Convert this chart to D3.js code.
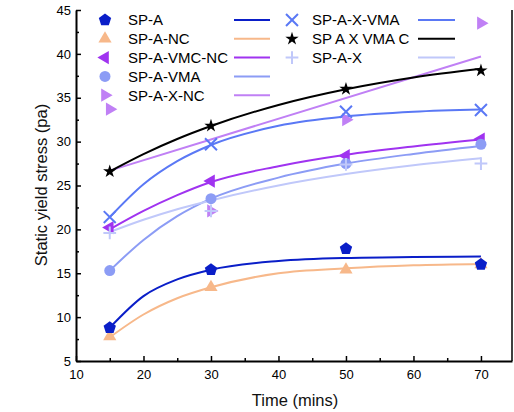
<!DOCTYPE html>
<html>
<head>
<meta charset="utf-8">
<script src="https://cdn.jsdelivr.net/npm/d3@7"></script>
<style>
  html, body { margin: 0; padding: 0; background: #fff; }
  svg { display: block; font-family: "Liberation Sans", Arial, sans-serif; font-weight: normal; }
</style>
</head>
<body>
<svg id="chart" width="514" height="412"></svg>
<script>
// Measured time points (mins)
const timeX = [15, 30, 50, 70];

// Static yield stress (Pa) per mix
const spA      = [8.8, 15.4, 17.8, 16.0];
const spANC    = [7.8, 13.4, 15.4, 16.0];
const spAVMCNC = [20.2, 25.5, 28.4, 30.3];
const spAVMA   = [15.3, 23.5, 27.5, 29.7];
const spAXNC   = [33.7, 22.1, 32.5, 43.5];
const spAXVMA  = [21.4, 29.7, 33.4, 33.6];
const spAXVMAC = [26.6, 31.8, 36.0, 38.1];
const spAX     = [19.6, 22.1, 27.4, 27.5];

// Fitted trend curves, sampled along time
const fitX = [15, 20, 25, 30, 40, 50, 60, 70];
const fitSpA      = [8.8, 12.4, 14.3, 15.4, 16.4, 16.75, 16.85, 16.9];
const fitSpANC    = [7.7, 10.3, 12.15, 13.4, 15.0, 15.56, 15.9, 16.06];
const fitSpAVMCNC = [20.0, 22.1, 23.9, 25.4, 27.2, 28.5, 29.45, 30.25];
const fitSpAVMA   = [15.3, 18.8, 21.5, 23.5, 25.9, 27.5, 28.6, 29.5];
const fitSpAXVMA  = [21.4, 25.15, 27.78, 29.62, 31.8, 32.87, 33.4, 33.65];
const fitSpAXVMAC = [26.6, 28.58, 30.3, 31.78, 34.18, 35.97, 37.31, 38.3];
const fitSpAX     = [19.7, 21.1, 22.3, 23.3, 25.0, 26.3, 27.3, 28.1];
// Linear trend for SP-A-X-NC
const fitLinX   = [15, 70];
const fitSpAXNC = [26.7, 39.7];

// Axis ticks
const xTicks = [10, 20, 30, 40, 50, 60, 70];
const xMinorTicks = [15, 25, 35, 45, 55, 65];
const yTicks = [5, 10, 15, 20, 25, 30, 35, 40, 45];
const yMinorTicks = [7.5, 12.5, 17.5, 22.5, 27.5, 32.5, 37.5, 42.5];

const seriesNames = ["SP-A", "SP-A-NC", "SP-A-VMC-NC", "SP-A-VMA", "SP-A-X-NC",
                     "SP-A-X-VMA", "SP A X VMA C", "SP-A-X"];

// Pentagon marker
const pentagon = {
  draw(ctx, size) {
    const r = Math.sqrt(size / 2.378);
    for (let k = 0; k < 5; k++) {
      const a = -Math.PI / 2 + k * 2 * Math.PI / 5;
      const px = r * Math.cos(a), py = r * Math.sin(a);
      if (k === 0) ctx.moveTo(px, py); else ctx.lineTo(px, py);
    }
    ctx.closePath();
  }
};

// Styling per series
const styles = [
  { color: "#0a1ec8", sym: pentagon, size: 100, rot: 0, stroke: false },
  { color: "#f7b88a", sym: d3.symbolTriangle, size: 75, rot: 0, stroke: false },
  { color: "#a033f0", sym: d3.symbolTriangle, size: 75, rot: -90, stroke: false },
  { color: "#8c9cf5", sym: d3.symbolCircle, size: 95, rot: 0, stroke: false },
  { color: "#c080f5", sym: d3.symbolTriangle, size: 75, rot: 90, stroke: false },
  { color: "#5a78f5", sym: d3.symbolTimes, size: 95, rot: 0, stroke: true },
  { color: "#000000", sym: d3.symbolStar, size: 55, rot: 0, stroke: false },
  { color: "#c0c8fa", sym: d3.symbolPlus, size: 55, rot: 0, stroke: true }
];

const series = [
  { name: seriesNames[0], ys: spA,      fx: fitX,    fy: fitSpA,      st: styles[0] },
  { name: seriesNames[1], ys: spANC,    fx: fitX,    fy: fitSpANC,    st: styles[1] },
  { name: seriesNames[2], ys: spAVMCNC, fx: fitX,    fy: fitSpAVMCNC, st: styles[2] },
  { name: seriesNames[3], ys: spAVMA,   fx: fitX,    fy: fitSpAVMA,   st: styles[3] },
  { name: seriesNames[4], ys: spAXNC,   fx: fitLinX, fy: fitSpAXNC,   st: styles[4] },
  { name: seriesNames[5], ys: spAXVMA,  fx: fitX,    fy: fitSpAXVMA,  st: styles[5] },
  { name: seriesNames[6], ys: spAXVMAC, fx: fitX,    fy: fitSpAXVMAC, st: styles[6] },
  { name: seriesNames[7], ys: spAX,     fx: fitX,    fy: fitSpAX,     st: styles[7] }
];

const svg = d3.select("#chart");
const plotL = 76, plotR = 512, plotT = 10, plotB = 361;

const x = d3.scaleLinear().domain([10, 74.6]).range([plotL, plotR]);
const y = d3.scaleLinear().domain([5, 45]).range([plotB, plotT]);

function symbolPath(st) {
  return d3.symbol().type(st.sym).size(st.size)();
}
function styleMarker(sel, st) {
  if (st.stroke) {
    sel.attr("fill", "none").attr("stroke", st.color).attr("stroke-width", 2);
  } else {
    sel.attr("fill", st.color).attr("stroke", "none");
  }
}

// Fit curves
const line = d3.line().x(d => x(d[0])).y(d => y(d[1])).curve(d3.curveMonotoneX);
const drawOrder = [1, 0, 2, 3, 4, 5, 6, 7];
const gData = svg.append("g");
drawOrder.forEach(i => {
  const s = series[i];
  gData.append("path")
    .attr("d", line(s.fx.map((v, k) => [v, s.fy[k]])))
    .attr("fill", "none")
    .attr("stroke", s.st.color)
    .attr("stroke-width", 2);
});
// Markers
drawOrder.forEach(i => {
  const s = series[i];
  gData.selectAll(null)
    .data(s.ys.map((v, k) => [timeX[k], v]))
    .join("path")
    .attr("d", symbolPath(s.st))
    .attr("transform", d => `translate(${x(d[0])},${y(d[1])}) rotate(${s.st.rot})`)
    .call(styleMarker, s.st);
});

// Axes
const font = "Liberation Sans, Arial, sans-serif";
svg.append("g").attr("transform", `translate(0,${plotB})`)
  .call(d3.axisBottom(x).tickValues(xTicks).tickSize(-5).tickSizeOuter(0).tickPadding(9));
svg.append("g").attr("transform", `translate(0,${plotB})`)
  .call(d3.axisBottom(x).tickValues(xMinorTicks).tickSize(-3).tickFormat("").tickSizeOuter(0))
  .call(g => g.select(".domain").remove());
svg.append("g").attr("transform", `translate(${plotL},0)`)
  .call(d3.axisLeft(y).tickValues(yTicks).tickSize(-5).tickSizeOuter(0).tickPadding(5));
svg.append("g").attr("transform", `translate(${plotL},0)`)
  .call(d3.axisLeft(y).tickValues(yMinorTicks).tickSize(-3).tickFormat("").tickSizeOuter(0))
  .call(g => g.select(".domain").remove());

svg.selectAll(".domain").attr("stroke", "#000").attr("stroke-width", 2);
svg.selectAll(".tick line").attr("stroke", "#000").attr("stroke-width", 1.5);
svg.selectAll(".tick text").attr("font-size", 13).attr("font-family", font).attr("fill", "#000");

// Right frame line
svg.append("line")
  .attr("x1", plotR).attr("x2", plotR).attr("y1", plotT).attr("y2", plotB)
  .attr("stroke", "#000").attr("stroke-width", 1.5);

// Axis titles
svg.append("text")
  .attr("x", 295).attr("y", 406)
  .attr("text-anchor", "middle").attr("font-size", 16.5).attr("font-family", font)
  .attr("font-weight", "normal").attr("fill", "#111")
  .text("Time (mins)");
svg.append("text")
  .attr("transform", "translate(47,185) rotate(-90)")
  .attr("text-anchor", "middle").attr("font-size", 16.5).attr("font-family", font)
  .attr("font-weight", "normal").attr("fill", "#111")
  .text("Static yield stress (pa)");

// Legend
const legendCols = [
  { sym: 105, text: 128, l1: 234, l2: 270 },
  { sym: 292, text: 312, l1: 418, l2: 455 }
];
const rowY0 = 20, rowStep = 18.8;
series.forEach((s, i) => {
  const col = legendCols[i < 5 ? 0 : 1];
  const row = i < 5 ? i : i - 5;
  const cy = rowY0 + row * rowStep;
  const g = svg.append("g");
  g.append("path")
    .attr("d", symbolPath(s.st))
    .attr("transform", `translate(${col.sym},${cy}) rotate(${s.st.rot})`)
    .call(styleMarker, s.st);
  g.append("text")
    .attr("x", col.text).attr("y", cy).attr("dy", "0.36em")
    .attr("font-size", 15).attr("font-family", font)
    .text(s.name);
  g.append("line")
    .attr("x1", col.l1).attr("x2", col.l2).attr("y1", cy).attr("y2", cy)
    .attr("stroke", s.st.color).attr("stroke-width", 2);
});
</script>
</body>
</html>
